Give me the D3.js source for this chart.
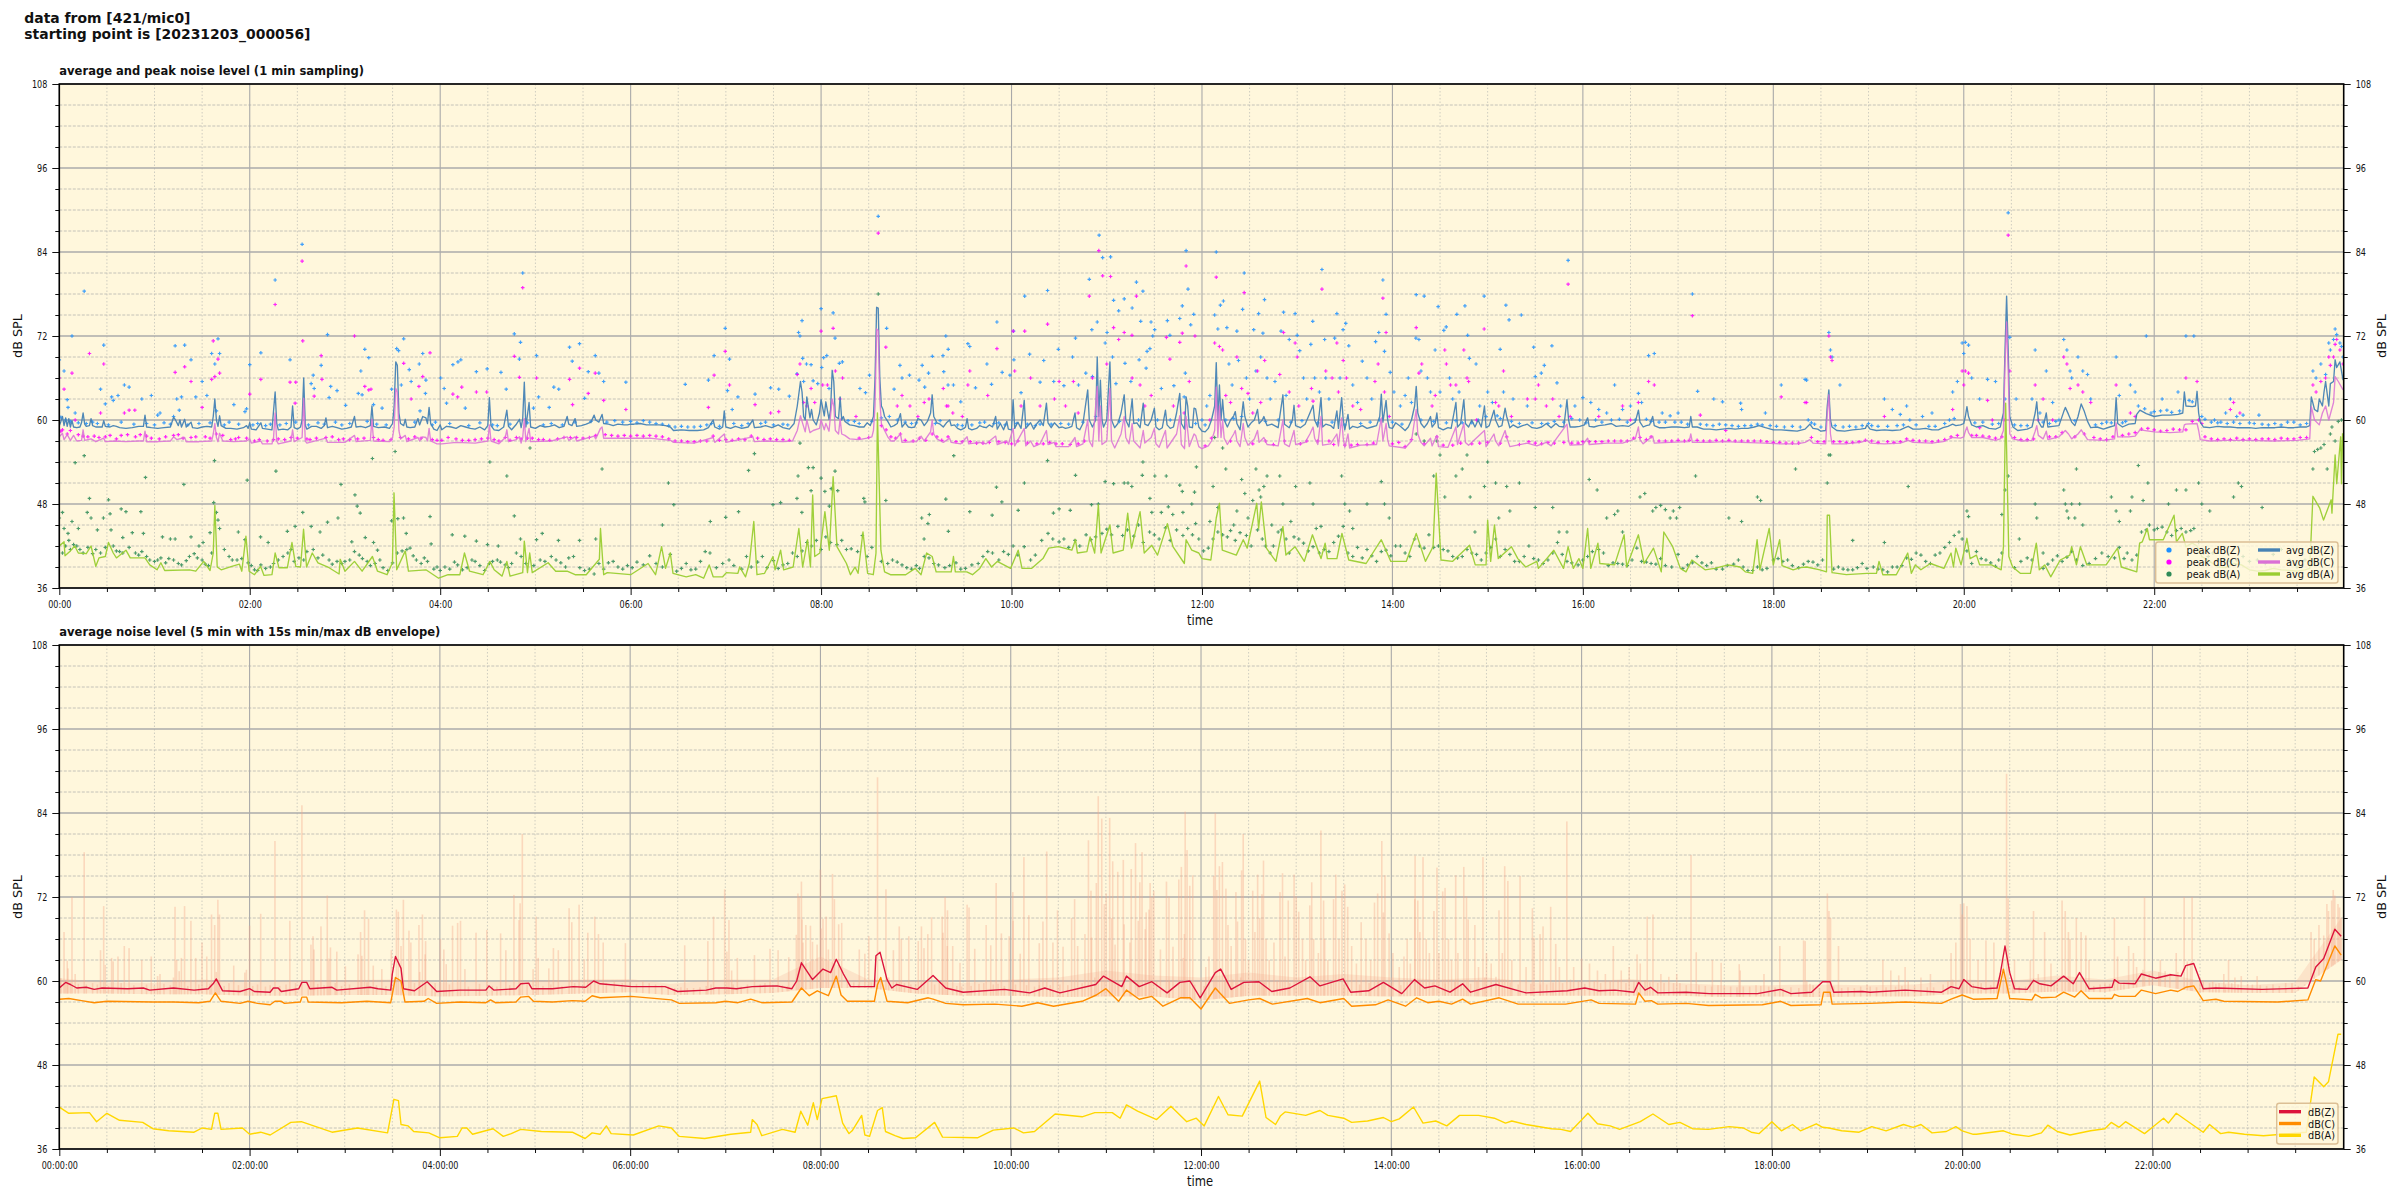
<!DOCTYPE html>
<html><head><meta charset="utf-8"><script src="https://cdn.jsdelivr.net/npm/d3@7/dist/d3.min.js"></script>
<style>html,body{margin:0;padding:0;background:#fff}svg{display:block}text{font-family:"DejaVu Sans",sans-serif;fill:#111}</style></head>
<body><svg id="c" width="2400" height="1200"></svg>
<script>
// all series are flat lists: minute, dB, minute, dB ...
const avgZ=[0,59.2,1,59.8,2,60.5,3,59.2,4,60.3,5,59.1,6,60.2,7,59,8,59.9,9,59,11,58.9,13,59,14,59.6,15,61,16,59.4,17,59.1,19,59.2,20,60.2,21,59.2,23,59,26,59,27,59,28,59.9,29,59.1,32,59,34,59.2,36,59.1,38,58.9,42,58.8,46,58.9,50,59.1,53,59.1,54,60.7,55,59,58,58.9,62,58.8,66,58.9,70,59,72,60.4,73,60.1,75,59.2,76,60,77,59,79,60.1,80,59,83,59.7,84,58.9,87,58.8,90,59,93,59.1,96,59,97,60.5,98,63,99,60,100,59.1,101,60.6,102,59.2,105,58.8,108,58.8,112,58.7,116,58.9,118,59.2,119,58.8,120,59.6,121,58.7,124,58.6,127,59.6,128,58.8,131,58.7,134,58.6,136,64,137,59.5,138,58.6,141,58.7,144,58.6,146,59,147,62,148,58.9,150,58.7,152,59,153,60,154,66,155,59.2,156,58.7,159,59.1,162,59.1,165,58.8,167,59.2,168,60.3,169,58.9,172,59.1,175,58.9,178,58.7,181,58.8,184,59,186,60.5,187,59,190,59.1,193,58.9,196,59.2,197,62,198,59.1,201,58.9,205,59,208,58.8,210,59.5,211,62,212,68.3,213,67.8,214,61,215,59.5,217,59.2,218,60.1,219,59,221,58.9,224,59,226,60.2,227,59.3,229,60.5,231,60.3,232,59.5,233,61.8,234,59.5,236,58.7,238,58.5,240,59.3,241,58.6,244,59.1,247,59,250,58.8,253,59.2,256,59,259,58.8,262,58.7,265,59,268,58.6,270,59.2,271,63.2,272,59.2,274,58.6,277,58.5,280,59,281,60.2,282,61.4,283,59.1,285,58.6,288,59.4,290,60.1,291,58.9,292,60.2,293,65.4,294,59,296,62.5,297,59,300,58.8,303,59.2,306,59,309,59.1,312,59.3,315,58.9,318,59.1,320,60.5,321,59.4,323,59.2,325,60.2,326,59.1,329,59.2,332,59.4,335,59.7,337,60.7,338,60,340,59.7,342,60.8,343,59.5,346,59.4,349,59.2,352,59.4,356,59.3,358,59.3,360,59.4,362,59.4,366,59.5,370,59.3,374,59.3,378,59.3,382,59.2,385,59,387,58.5,392,58.6,397,58.5,402,58.5,406,58.6,409,58.9,412,60,413,59,416,58.7,418,59,419,61.3,420,59,423,58.8,426,59.1,430,58.8,434,59,437,60,438,58.9,442,59,445,59.2,449,58.9,453,59.3,456,58.9,460,58.7,463,59.5,465,62,467,65.5,468,64,469,60.5,470,60,471,63.3,473,60.3,474,61.5,475,60,477,59.3,479,61,480,62.9,482,60.6,483,62.6,485,60.1,486,61.5,487,67.1,488,65.5,489,60.5,491,60.2,492,63.3,493,60,494,60.5,495,59.8,498,59.3,501,59.2,504,59,507,59,509,59.6,511,59.2,513,60.5,514,66,515,76.1,516,76,517,66,518,62,519,61.5,520,60.5,522,59.8,524,59,526,59.2,528,59.5,530,60.9,531,59,533,59.6,535,59,537,58.9,539,59,541,60.2,543,60,545,59.2,547,59.8,549,61,550,63.6,551,60.5,553,59.6,555,59.4,557,59,559,59.6,561,60,562,59.2,564,59.3,566,58.8,568,58.6,570,58.8,571,59,572,60.2,573,58.8,575,58.6,578,58.8,580,59.2,582,59,584,58.9,586,59.3,588,59,590,60.5,591,58.7,593,59.5,595,58.6,597,59.8,598,58.7,600,58.6,601,62.9,602,58.8,604,59.7,606,58.8,608,62.8,609,58.8,612,59.6,614,58.7,616,59.5,618,60,620,59.2,622,62.4,623,59.6,625,58.9,627,59.6,630,58.9,632,59,634,58.8,636,58.9,638,59.1,640,61,641,58.9,643,58.6,645,59.5,648,64.3,649,60,651,59,653,60,654,69,655,60.5,656,65.7,657,60,658,59,660,60,662,68.3,663,60,665,58.9,667,59.5,669,61,671,63.6,672,60,674,59,676,63,677,59.5,679,59.6,681,58.9,683,62.4,684,59.4,686,59.2,688,60,690,61.7,691,59,693,58.6,695,58.9,697,61.4,698,59.3,700,58.8,702,59,704,61,706,63.8,707,59.5,709,58.7,710,63.3,711,62,712,59,714,58.9,715,61.7,716,61.6,718,59,720,58.4,722,58.3,724,58.8,726,60,728,62,729,68.2,730,60,731,65,732,60,733,62.9,734,60,736,59,738,60,740,60.6,741,61.2,742,59.5,744,58.6,746,62.6,747,60.5,749,59,751,59.6,753,60,755,61.5,756,59.5,758,60,759,60.5,761,59.2,764,59.4,768,58.9,771,63.6,772,59.4,775,58.9,777,60,778,62.1,779,59.2,782,58.9,785,59.4,788,61,790,62.1,791,60,793,59,795,63.2,796,59,798,59.4,801,59.2,803,58.8,805,61.3,806,58.8,808,63.2,809,60,810,58.6,812,60.8,813,58.7,815,59.1,818,58.9,821,59.2,824,58.8,827,59,830,59.2,832,60.5,833,63.7,834,59.7,836,62.8,837,60,838,58.9,840,58.8,842,59.6,845,59.1,848,58.5,850,59,852,60,854,62,855,64.8,856,61,858,59.5,860,58.9,862,59.5,864,60.5,865,59,867,59.6,868,61,869,58.9,872,58.6,875,58.9,877,58.8,880,62.5,881,59,883,59.5,885,62.9,886,59.5,888,59,890,60,892,59,894,60,896,59,898,62,899,58.9,901,59.2,904,61.4,905,60,907,59,909,59.2,911,61.7,912,60.5,914,58.9,916,59.3,919,58.9,922,59.2,925,59.4,928,58.9,931,58.8,934,59,937,59.5,940,58.9,943,59.5,945,59.1,948,59,950,62.9,951,60,952,59,955,59,958,59.1,961,59.3,963,60.3,964,59.1,967,59,970,59.2,974,59.3,978,59.5,981,59.1,985,59.2,989,59.1,993,59.7,995,61.4,996,59.7,998,59,1000,59.2,1002,59.3,1004,60.5,1005,59.2,1008,58.9,1012,58.9,1016,59,1020,59,1024,58.9,1027,59,1028,60.5,1029,59,1032,59,1036,58.7,1040,58.7,1044,58.6,1048,58.7,1052,58.8,1056,58.7,1060,58.8,1064,58.8,1068,59,1071,59.2,1075,58.9,1080,58.6,1085,58.6,1090,58.5,1095,58.4,1100,58.7,1103,59.4,1105,58.8,1108,58.7,1110,58.4,1113,58.5,1114,62,1115,64.3,1116,60,1117,59,1120,58.5,1125,58.4,1130,58.6,1135,58.7,1138,58.8,1139,59.3,1141,58.7,1145,58.5,1150,58.6,1155,58.5,1160,58.6,1163,58.9,1165,59.1,1168,58.7,1172,58.7,1176,58.8,1180,58.6,1184,58.6,1187,58.9,1190,59.1,1193,59.4,1195,59.2,1198,59.3,1200,59.5,1201,60.5,1202,61.9,1203,60.5,1205,59.3,1208,59,1212,59.2,1216,58.8,1220,58.7,1223,59,1225,61,1226,70,1227,77.7,1228,70,1229,60.5,1231,59,1234,58.5,1237,58.6,1240,58.7,1243,59,1245,61,1246,62.6,1247,59.8,1249,59,1250,59,1251,60,1252,61,1253,59,1256,59.1,1260,59.2,1263,61.2,1264,61.8,1266,60.8,1268,59.7,1270,59.2,1272,60.5,1274,62.3,1276,61.2,1278,59.8,1280,58.9,1284,59,1288,58.7,1292,59,1295,59.2,1296,63.2,1297,59.5,1300,59,1304,59.4,1308,59.5,1309,60.8,1311,61.4,1315,60.9,1320,60.5,1325,60.7,1330,60.7,1335,60.8,1338,61,1339,64,1340,62,1344,61.9,1346,62,1347,64.1,1348,61,1349,59.7,1351,59,1355,58.9,1360,59.1,1364,59,1368,59,1372,58.9,1376,58.9,1380,58.9,1384,58.8,1388,58.9,1392,58.9,1396,58.9,1400,59,1404,58.9,1408,58.9,1412,59,1416,59,1418,59.2,1419,63.3,1421,61.5,1423,61.2,1424,63,1426,62,1427,64,1428,65.5,1430,62,1431,65.2,1433,65.5,1434,68.6,1435,67.5,1437,68.3,1439,65.7];
const avgC=[0,57.6,2,58.1,3,57.2,5,57.9,7,57.1,9,57.8,11,57,14,57.1,15,58.6,16,57.1,20,57.3,23,56.9,28,57.4,29,56.9,35,57,42,56.9,50,57,53,57,54,58.4,55,56.9,62,56.9,70,57,72,57.6,74,57.2,79,57.5,80,56.9,88,56.9,96,57,97,58,98,59.5,99,57.5,100,56.9,101,58.1,103,57,110,56.9,118,57,120,57.3,121,56.7,127,57,128,56.6,134,56.6,135,57.5,136,61,137,57,138,56.6,146,57,147,58.6,148,56.9,153,57.5,154,63.1,155,57,156,56.7,168,57.4,169,56.8,180,56.8,186,57.8,187,56.9,196,57.1,197,60.1,198,57,208,56.9,210,57.5,211,59,212,64.5,213,64,214,58.5,215,57.3,218,57.8,219,56.9,226,57.5,227,57,229,57.6,231,57.5,232,57,233,58.8,234,57,238,56.6,241,56.6,250,56.8,262,56.7,270,57,271,59.3,272,57,277,56.6,281,57.5,282,58.6,283,56.9,288,57.2,290,57.6,291,56.7,292,57.5,293,60.2,294,56.9,296,58.8,297,56.9,310,57,320,57.6,321,57.1,325,57.6,326,57,337,57.7,338,57.3,341,58.8,342,59,343,57.4,350,57.4,360,57.4,372,57.4,385,57.1,387,56.8,400,56.7,412,57.5,413,56.8,419,58,420,56.8,437,57.6,438,56.9,445,57,456,56.9,462,57,465,58.5,467,60.6,468,59.8,470,58.3,471,60,473,58.2,475,58.5,479,58.8,480,60,482,58.6,483,59.5,485,58.4,487,63,488,62,489,58.5,491,58,492,60.2,493,58,495,57.8,498,57.3,504,57.2,509,57.4,512,57.6,513,58.5,514,62,515,73,516,72.8,517,63,518,59.5,520,58.5,522,57.6,524,57,526,57,530,58,531,56.8,540,56.9,543,57.7,545,57,549,58.3,550,60,551,58,553,57.3,557,56.8,561,57.4,562,56.8,568,56.6,572,57.6,573,56.6,580,56.8,584,56.6,590,57.7,591,56.5,597,57,598,56.5,601,58.8,602,56.3,608,58.8,609,56.3,612,57,614,56.2,618,56.6,622,58.5,623,56.5,627,56.8,628,56.2,636,56.2,640,57.5,641,56.2,645,56.6,648,60,649,57,651,56.2,654,64.8,655,57,656,62,657,56.5,660,57,662,64.5,663,57,665,56,669,58,671,60.5,672,57.5,674,56.6,676,59.5,677,57,681,56,683,58.5,684,56.7,688,57.5,690,58.8,691,56.6,693,56.1,697,58.5,698,56,704,58,706,60.6,707,56.5,709,55.9,710,60.5,711,58.5,712,56.2,715,58,716,57.8,718,56.2,720,55.9,724,56.3,726,57,728,58.5,729,64.7,730,57.5,731,62,732,57.5,733,60,734,57.4,736,56.5,740,58,741,58.5,742,57,744,56.2,746,59.5,747,57.5,749,56.4,753,57.3,755,58.5,756,56.8,759,57.5,761,56.5,768,56.3,771,60,772,56.6,775,56.2,778,58.5,779,56.5,785,56.8,788,58,790,59,791,57.4,793,56.5,795,60.5,796,56.4,801,56.6,805,58,806,56.3,808,60.3,809,57.4,810,56.1,812,58,813,56,820,56.4,830,56.5,833,60.3,834,57,836,59.5,837,57.2,838,56.3,848,56,852,57,855,61.5,856,58,858,56.8,860,56.3,864,57.4,865,56.3,868,57.8,869,56.2,875,56.1,880,59,881,56.5,885,59.5,886,56.8,888,56.4,898,58.5,899,56.2,904,58,905,57,907,56.3,911,58.5,912,57.5,914,56.2,925,56.7,931,56.3,937,56.8,940,56.3,950,59.4,951,57,952,56.4,960,56.5,963,57.4,964,56.5,975,56.7,985,56.7,993,57.3,995,59,996,57.2,998,56.6,1004,57.7,1005,56.7,1015,56.8,1027,56.9,1028,58,1029,56.8,1040,56.8,1050,56.9,1060,56.8,1075,56.7,1085,56.6,1095,56.6,1100,56.8,1103,57.2,1105,56.7,1113,56.6,1114,61,1115,63.6,1116,58,1117,56.6,1125,56.6,1135,56.8,1139,57.1,1141,56.7,1150,56.6,1160,56.7,1165,57.1,1168,56.8,1180,56.7,1187,56.9,1193,57.5,1198,57.4,1200,57.6,1201,58.4,1202,59,1203,58.2,1205,57.5,1212,57.5,1220,57.1,1223,57.3,1225,58.5,1226,68,1227,74,1228,67,1229,58,1231,57.3,1237,57,1243,57.1,1245,58.4,1246,59.2,1247,57.8,1250,57.3,1252,58.4,1253,57.2,1260,57.6,1264,58.5,1266,58,1268,57.3,1272,58,1274,58.6,1276,57.9,1278,57.2,1288,57.1,1295,57.3,1296,59.6,1297,57.6,1304,57.6,1308,57.7,1311,58.6,1320,58.3,1330,58.2,1338,58.3,1339,59.3,1340,59.4,1347,59.5,1348,58.5,1349,57.2,1355,57,1365,57.1,1380,57.1,1395,57,1410,57.1,1418,57.3,1419,61.9,1421,60,1424,59.3,1426,61,1428,62,1430,60,1433,62.5,1434,66.2,1436,65.5,1439,64.3];
const avgA=[0,42,3,42.6,3.6,40.6,7,41.3,9.7,42,12,41,17,40.9,20,42,23,39.1,25,40.3,29,40.5,31,42.5,34,41,36,40.3,42,41.4,44.7,40.3,54,40.3,57,39.3,61.6,38.6,64,39.6,66.4,38.5,82,38.6,86,38.4,91,39.8,95,38.5,97,41,98,47.8,99.5,39,102,38.6,108.7,39.1,113.5,39.4,115,38.4,117.6,43.4,119.6,38.4,123,37.9,126.8,39.1,129,37.8,134,37.9,136,41,138.4,38.9,143.7,38.9,146.6,42.5,149,39.1,152,39,153.9,44.4,155.8,39,159.4,41,163,39.6,170,38.9,176.3,38,177,40.1,180,38.4,186,39.8,190.8,38.4,197.3,40.5,200.5,38.4,206.5,37.9,209.9,39.6,210.9,49.6,212.6,38.6,218,41.3,220,38.4,231,38.6,239,37.4,245,37.9,252.4,37.9,255.3,41,258.5,38.4,267,37.9,271.3,39.8,274,38.6,279,37.7,282,39.8,284,37.7,292,38.2,293,42.7,295,38.2,296.4,41,298,38.2,308,39.6,312.8,38.4,320,38.4,325,37.9,332,37.9,340.3,40.1,341,44.5,343,37.9,345.3,38.2,360,37.9,371,39.5,375.7,37.9,379.5,41.9,382,38.8,385,41,386.7,38.1,395,37.6,401,37.9,406,37.4,409.5,39.3,412,37.6,418,37.6,420.3,38.2,427.6,38.1,428.7,39,432.4,37.6,434.8,39.5,437.6,45.5,439.6,37.9,444.4,38.1,449.7,40.5,451,38.6,454.5,41.4,456.4,38.6,462.4,39,466,44.5,468.4,39,471.5,42.9,473.3,39,474.7,49.3,476,40.5,479.2,41,482.4,46.9,485.2,41.4,487.6,51.9,490,41.9,496,39.5,498.5,37.9,501.4,39,503.3,38.1,506.4,44,509.3,38.1,512.9,37.9,514.6,41,515.5,61,517.7,41.4,520,38.3,523.7,37.9,533.3,37.9,539.3,38.8,543,37.9,546.5,41,550,40.5,552.5,38.3,562,38.3,563.4,40.5,564.6,38.3,571.8,38.3,575.4,37.9,580,38.8,583.8,40.2,587.4,39,591,39.8,599.4,38.8,604.2,41.4,606.6,38.8,612.6,38.8,619.8,40.2,623.4,41.7,629.5,41.9,638,41.4,640.3,42.9,641.5,41,647.5,41.2,649.5,43.3,652.4,41,654.7,47.9,656.4,41,658.3,42.4,662,45,664,41,670.4,41.4,673.2,46.7,675.6,41.7,681,46.9,683.6,41,688.4,42.1,692,40.7,698.2,45.2,701.7,41.9,708.9,39.5,710,42.9,713.6,41.4,718,41,720,40.2,725.6,40,729,46,731,48.1,732.8,41.4,741.6,40.7,746,42.9,748.5,41.7,754.5,48.1,755.7,44.5,757.4,48.3,760.6,41.7,766.6,39.8,771,44.8,772.9,40.7,778.6,41.9,784.5,39.8,789.6,43.6,795,40.2,797.6,42.4,799,40.2,805,40.2,808.2,43.8,812.5,40,823.4,39.5,833,42.9,839,39.8,848.7,39.8,855,43.8,860.8,39.8,865.6,41.9,867.6,52.4,870.6,40,877.8,39.8,888.6,42.1,892.2,39.3,899,39.3,900,45.7,901.9,39.8,904.3,45,906.7,40.2,915,41.9,919,40.2,924,39,931,39.8,932,38.8,941.7,41.4,947.8,38.8,950.7,41.9,954,38.8,957.5,40.2,960,38.8,963,44.5,965,38.8,969.5,42.4,970.7,39.5,980,39.3,986,43.6,987.6,39,995,43.6,998.6,39.5,1004.5,41.7,1009.4,38.3,1011,44,1016.6,41.9,1021.4,38.8,1025,38.3,1028.7,40,1037,38.6,1043,38.8,1051.6,39.3,1059,39,1062.5,38.3,1067,38.1,1069.8,42.9,1071.5,38.6,1077.4,44.5,1080,39.3,1084,42.9,1085.5,39.2,1092.5,38.6,1097,38.9,1101,39,1109.4,38.6,1113.5,38.3,1114,46.4,1115.4,46.4,1117,38.2,1126,37.9,1139,38.1,1145,38.1,1146.6,39.8,1149,37.9,1157.5,37.9,1164.7,41,1167,38.1,1169.5,39.3,1173,38.6,1179,39.5,1187.5,38.8,1192,41,1193.5,39,1195,41.7,1198.3,39.3,1202,43.1,1204,40.2,1208,40.7,1210,39.3,1217.5,39.3,1223.6,38.6,1225,41.9,1226.4,62.4,1228.4,40.5,1230.8,39,1235.6,38.1,1242,38.1,1245.7,42.4,1247.6,38.6,1251,39.3,1254.8,37.6,1260.8,40,1266.8,40.7,1268,41.9,1271,39.3,1273.5,41.9,1277.6,39.3,1289.7,39.3,1296.9,41.7,1299.3,39,1309,38.3,1310.8,42.4,1312.5,42.6,1315.6,44.5,1317,42.9,1325.7,42.9,1332.5,46.4,1334,42.6,1337.7,43.8,1340,41.9,1344,42.4,1347,42,1350,40.5,1355,39.8,1360,39,1365,38.9,1370,39.5,1375,39.3,1380,38.6,1385,38.4,1390,38.5,1395,38.8,1400,38.6,1405,38.5,1410,38.4,1415,38.6,1418,38.8,1420,49.1,1424.3,47.4,1426.7,45.7,1431.5,48.6,1432,46.7,1434,55,1435,50.9,1437.5,57.6,1438,50.9,1438.7,58.1];

const peakZHigh=[0,68.6,3,67,5,62.9,5.5,61.8,8,72,10,61,15.7,78.4,26,64.4,28,70.7,29,62.3,33,63.3,34,62.8,37,63.5,41,65,44,64.7,52,63,58,63.5,62,60.7,63.5,61,72,60.5,73,70.6,74,63,75.6,61.4,77,63.3,79,70.7,83,68.6,86,63.3,90,65.5,93,63.5,96,69.5,98,68,99,61.3,100,71.6,101,69.5,110,62.2,117,61.2,118,61.6,120,67.9,127,69.6,136,80,145.4,68.6,153,85.1,158.7,65.2,160,66.4,160.6,64.5,165,67.8,169,72.2,170,63.2,171,64.8,175,64.2,180.4,62.1,188.4,63.8,190,67,190.8,63.6,192.5,70.1,195,68.9,198,62.2,203.4,61.7,209.4,64.4,212.6,70.2,213.8,69.9,215.5,65,217,71.6,220.5,67.2,221.7,65.5,226.8,68,227.3,61.3,229,69.5,230.7,63.8,231,65.7,240.3,66,242.5,64.5,244,62.4,248,67.9,251.2,68.3,253,68.6,255.8,61.7,262.8,66.9,269.6,67.3,278.3,66.8,281.6,64.4,286.7,72.3,289.9,68.7,290.6,71.1,292,81,298.8,61.7,300.7,69.2,302,63.3,308.7,61.8,311.6,64.7,314.7,64.4,321.5,70.4,323.2,68.4,327.8,70.9,331,63.1,333.3,66.9,337.7,69.2,340,66.7,343,65.5,357,65.4,394.4,65.1,409,65.7,412.6,69.2,419.6,73.1,421,64.2,422.3,68.7,424,61.5,427.6,63.3,438.4,63.7,448.2,64.6,453.3,64.4,460,63.4,464.8,66.6,465.8,72.5,466.7,72,468,74.2,468.4,68.8,469,65.5,470.8,68,473.7,67.9,475,65.6,477.9,65.2,480,75.9,480.4,67.5,481.6,68.9,483.6,69.2,485,64.5,487.6,75.3,488.8,71.7,491.5,68.1,493.4,68.3,504.5,64.5,508,63.9,510.5,66.4,516,89.1,521.3,73.1,526,64.4,529.7,67.8,531,66,535.7,66.4,541.7,65.7,543.7,67.8,545.3,64.7,547.7,66.7,550.1,69.1,556.8,69.2,557.3,66.9,558.6,72,560,65,560.1,70.1,563.4,65,568,62.6,572.5,70.9,573.7,70.5,577.3,64.6,584.5,68,587.4,65.1,590.8,74,594.1,66.8,599,66.4,601.3,72.7,601.5,68.6,606,63.9,608.3,77.7,611.4,69.4,618,65.4,620.3,68.5,622.7,78.5,626.6,65.5,629.5,70.1,633,64.9,638.4,69,640.3,71.7,642.2,65,646.8,66.7,649,80.1,650.6,72.9,651,66.2,654,74,655.2,86.4,657.4,83.2,659,71,660.2,72.5,662.4,83.3,663.6,69,664.3,77.1,665.8,65.2,667.5,75.6,671,77.3,671.5,68.1,675.2,65.5,676,76,678.7,79.7,680.4,68.6,681.4,74.1,682.8,78.4,684.8,67.4,685.4,69.8,687.2,70.2,687.9,74,689,72,690.2,72.9,694.4,64.5,698.2,74.2,699.8,72.1,702.3,64.9,706,74.5,707.6,76.3,708.8,63.3,709.5,66.7,710,84.2,711.2,78.7,712.9,73.6,714.8,75.1,723,62,725,63.5,728,75,729,84,730,73,731.6,76.4,733.5,77,735.7,73.2,737,68,739,65,742,72.7,743,68.5,745.6,75.8,746.6,81,748,66,750,63,752.6,72.9,754,67,755.7,75.2,757,69,758.4,72.4,759.4,77.2,761,66,763,63,766,65.5,769.8,72.7,771.4,75.4,773,63.5,775,71.5,778.7,75.2,780,72.1,781.6,69.9,784,66,786,63,788.6,70.8,789.8,74.1,791,66,794,64,795.6,81.5,797.3,71.5,798,66,800,63,803.6,71.7,805,75.2,807,66,808.9,72.9,810.6,73.8,812.5,70.6,815,65,818,62.5,821,68.4,824,66,827,63,829.4,71.2,831.4,72.5,834,80,835,69.8,836,75.1,838.6,66.8,841,64,845,62,848,63.5,850,66,852,62.5,854.8,71.7,855,77.9,856.7,71.5,858,67,860,77.7,862,66,864,64,866.9,70,868.8,76.2,870,64,872.4,72.8,873.9,73.3,876,66,878,63,880.6,75.1,882,64,885.7,76.3,887.4,72.1,888.5,68.8,892.7,68,895,62,897.8,77.7,900,64,903,62.5,907.9,70.1,910,64,911.5,76.4,913.5,74.3,916,63,921.2,75,925,62,929,70.4,930,66.2,933.8,66.7,935.7,67.8,940.5,70.6,943.7,65.3,946,62,950.7,82.8,955,62,960,63.2,965,62.5,970,61.5,975,61,980,65,985,61.5,990,62,995,63.8,997,62.5,1001.4,69.2,1005,69.5,1010,61,1015,60.6,1020,61,1029,78,1032.3,64.1,1042.5,63,1048,62.6,1059.4,62.4,1060,61.5,1075,61,1085,65,1100,65.8,1101,65.7,1115,72.5,1116,70,1117,69,1122,65,1150,63,1155,61.5,1160,60.8,1164,62,1174,60.5,1180,61,1193,64,1196,65.5,1199,71,1200,69.5,1201,71.1,1203,70.7,1205,66,1210,63,1215,65.8,1220,65.5,1226,63,1228,89.6,1229,71.8,1233,63,1243,63,1245,70,1248,61,1252,67,1256,62.5,1263,71.5,1265,70,1267,67,1268,66,1272,69,1275,67,1278,66.5,1280,63,1296,69,1298,63.5,1305,65,1308,64,1315,72,1318,61,1325,63,1335,64,1340,72,1345,72,1350,60.5,1365,61,1368,63,1372,60.5,1376,60.7,1386,60.7,1420,67,1422,66,1425,68,1428,66.5,1430,71,1431,70,1433,71.5,1434,73,1435,72.2,1437,71,1438,70.5,1439,69];
const peakZBand=[1,60.4,4,60,7,59.8,12,59.6,17,59.5,21,59.7,24,59.5,31,59.3,39,59.7,47,59.4,55,59.5,60,59.3,66,59.6,70,59.4,81,59.3,88,59.5,95,59.6,104,59.3,107,59.7,113,59.4,122,59.3,125,59.5,130,59.2,133,59.4,139,59.3,143,59.5,149,59.7,157,59.3,163,59.6,167,59.4,174,59.7,178,59.3,183,59.5,194,59.8,200,59.4,206,59.3,224,59.7,235,59.3,237,59.7,246,59.5,258,59.2,265,59.6,273,59.3,276,59.2,284,59.4,295,59.6,305,59.3,310,59.5,317,59.3,325,59.7,335,59.8,345,59.7,350,59.9,355,59.7,360,59.8,364,59.6,368,59.9,372,59.7,376,59.5,380,59.4,384,59.2,388,59,392,59.1,396,59,400,59,404,59.1,408,59.3,411,59.5,416,59.1,425,59.5,430,59.2,434,59.5,442,59.5,445,59.7,450,59.3,456,59.4,459,59.3,497,59.9,501,59.8,504,59.5,512,59.8,518,60.3,523,60.5,528,60,533,59.7,537,59.5,540,59.6,552,59.5,555,59.9,566,59.3,569,59.2,575,59.3,580,59.6,583,59.7,589,59.5,592,59.6,596,59.3,603,59.5,610,59.4,615,59.2,618,59.4,625,59.4,631,59.5,636,59.4,645,59.7,653,60.5,668,59.8,680,60,692,60,700,60,716,59.5,720,60,722,59.3,735,60,740,60.2,745,60.5,760,59.8,768,60,776,59.7,783,59.9,793,59.6,802,59.7,810,59.3,820,59.5,826,59.7,832,60,840,59.7,846,59.4,858,60,866,59.8,874,59.6,880,59.9,884,59.6,890,59.6,894,60,899,60.5,906,60.6,908,60.2,915,59.8,920,59.5,928,59.6,934,59.5,938,59.5,942,59.8,948,59.7,953,60.2,958,60,962,59.6,968,60,972,59.7,978,60,983,60.1,988,59.7,993,60,1000,60.1,1003,59.8,1008,59.7,1012,59.7,1018,59.7,1022,59.7,1026,59.4,1034,59.4,1038,59.3,1042,59.2,1046,59.4,1050,59.3,1054,59.2,1058,59.1,1062,59.2,1066,59.2,1070,59.4,1073,59.3,1078,59.2,1082,59.1,1087,59,1092,59.1,1097,59,1102,60,1104,59.6,1106,59.4,1110,59,1119,59.2,1124,59,1128,59.1,1132,59,1136,59.2,1140,59.5,1142,59.2,1146,59.1,1152,59.1,1158,59.2,1162,59.3,1166,60,1170,59.3,1178,59.1,1182,59.1,1188,59.5,1191,60,1194,60.2,1207,59.6,1212,59.7,1218,59.4,1222,59.5,1232,59.3,1236,59.2,1240,59.2,1250,59.7,1254,59.5,1258,59.8,1260,60,1270,59.9,1283,59.3,1287,59.5,1290,59.7,1293,59.6,1300,59.6,1302,59.8,1310,62,1314,61.6,1320,61.2,1324,61.3,1328,61.4,1331,61.1,1336,61.3,1342,62.8,1344,62.6,1352,60.1,1356,59.7,1358,60,1360,59.6,1362,59.7,1366,59.5,1370,59.7,1374,59.5,1380,59.6,1383,59.5,1388,59.4,1392,59.3,1396,59.5,1400,59.3,1404,59.7,1408,59.7,1412,59.3,1416,59.5];
const peakCHigh=[0,66,3,64.4,8,66.7,10,60,19,69.5,26,61,28,68,41,61,44,61.4,47.6,61.4,73,66.8,79,67.6,83,65.5,90,61.8,96,65.8,97,71.3,100,68.7,101,66.7,98,66.2,120,63.7,127,65.8,136,76.5,145.4,65.4,148.6,62.4,149,65.4,153,82.7,153.4,71.3,160.6,63.4,165,69.2,165.5,65.8,186,72,192.5,64.8,195,64.3,196.4,64.4,217,68.1,221.7,63,226.6,64.8,229,66.2,233.6,69.6,248,63.7,251,63.3,253.6,64.7,262.8,64,269.3,64,286.7,69.1,289.9,66.1,292,78.9,300.7,66,321.5,65.8,323.4,62.2,327.8,67.4,333.3,63.8,337.7,66.7,343,62.8,357,61.5,409,61.8,412.6,66.4,419.6,69.8,422.3,65,438.4,62.2,448.2,61,453.3,61.2,465,66.5,466.7,68,469,62.5,471,62,473.7,64.5,476,62.5,480,72.7,481,65,484,65,487.6,73.1,489,67,492,63,493.5,66,502,60.5,516,86.7,520.8,70.4,528,62,531,63.5,536,62,541,60.5,545,62.5,548,63,557,64.5,559,62,560,62,563,61,569,60.5,573.7,67,572.5,65,585,63.5,590.8,70.2,601,72.7,602,67,606,62,608.3,72.7,612,66,618,62,622.7,73.7,627,63,630,65.5,634,62,639,65.5,642,61,649,77.7,651,66,655,84.2,657.4,80.6,660,68,662.4,80.5,664.3,73.2,667.5,71.5,671,72.5,675.9,72.1,676,66,678.7,77.7,681,65,684,62,688,63.5,697.6,71.8,699.8,68.7,702,62,706,71.1,707.6,72.4,708.8,61,710,82,712,65.5,715.6,72,725,60,728,71,729,80.4,731,70.5,733,70,735,63.5,738,62.5,742,69,745,64.5,746.6,78.2,749,63.8,752,61,755,67,757,62.5,759.5,68.5,769,66.5,771.4,72.5,775,64,778.7,71,780,69,781,62,789,64.5,790,62.7,795.6,78.7,798,67,802,66,805,71,806,64,809,68.5,811,66,815,62,820,61.5,829,65.5,831,68,834,77.4,835,64,836,72.5,838,60.5,855,73.2,856.7,66.7,858.5,68,865,62,867,63.5,873,70,874,68,876.6,65,880,65,885,70,887,66,888,65.5,893,60,897.8,73,905,62.5,907,62,910,67,915,60.5,925,63,930,63,932,65,937,62,941,63,945,60.5,950.7,79.4,952,60.5,970,60.5,985,62,990,60,995,62.5,1001.4,65.5,1005,65,1029,74.9,1034,60.7,1050,58.5,1085,63.3,1100,62.5,1101,62.5,1115,72,1116,69,1117,68.5,1150,60.5,1193,61.5,1199,67,1200,65,1201,67,1203,66.7,1210,58.9,1215,62.8,1218,60,1226,60,1228,86.4,1229,67,1245,65,1247,60,1250,63,1256,60,1263,69,1265,68,1267,64.5,1272,65,1275,64,1280,62.5,1296,65,1305,61,1308,60.5,1340,66,1347,65.5,1350,59.5,1368,61.5,1370,62.5,1374,61,1420,65,1422,64,1425,65.5,1428,66,1430,69,1431,67.8,1433,69,1434,70.8,1435,71.5,1437,70,1439,68];
const peakCBand=[1,58.4,2,58.6,5,58,7,58.5,12,57.9,15,57.7,18,57.6,22,57.7,25,57.5,29,57.6,32,57.8,36,57.3,39,57.8,43,57.9,48,57.6,51,57.9,55,57.7,58,57.4,63,57.3,67,57.6,72,57.8,75,57.9,78,57.4,83,57.5,86,57.6,92,57.6,95,57.4,99,58,103,57.8,108,57.2,111,57.3,113,57.5,118,57.4,123,57,126,57.2,131,57,135,57.2,138,57.3,142,57.2,146,57.5,150,57.4,156,57.3,158,57.2,162,57.4,168,57.5,172,57.6,176,57.2,179,57.3,183,57.2,188,57.3,192,57.4,198,57.5,201,57.2,204,57.1,209,57.2,215,57.5,220,57.3,224,57.6,228,57.4,235,57.2,238,57.1,241,57.1,245,57.5,250,57.3,254,57.1,258,57.1,262,57.2,266,57.3,270,57.4,274,57.2,277,57,281,57.5,284,57.1,288,57.5,291,57.3,295,57.4,298,57.4,302,57.2,305,57.2,309,57.1,314,57.3,318,57.5,322,57.5,326,57.5,330,57.4,334,57.5,338,57.8,344,57.9,348,57.8,352,57.7,356,57.8,360,57.7,364,57.8,368,57.7,372,57.8,376,57.7,380,57.6,384,57.3,388,57,392,57,396,56.9,400,56.9,404,57,408,57,412,57.7,416,57.1,420,57.2,424,57.1,428,57.3,432,57.2,436,57.7,440,57.4,444,57.2,448,57.3,452,57.2,456,57.2,460,57.1,504,57.4,510,57.5,518,59.2,521,58.6,524,57.6,527,57.4,530,58,533,57.1,538,57,542,57.4,546,57.1,550,58,553,57.6,556,57.1,560,57.6,565,56.9,569,56.9,574,56.9,578,56.7,582,56.7,586,56.8,592,56.9,596,56.8,600,56.6,604,57,610,56.7,616,56.6,620,56.6,624,56.8,628,56.6,632,56.6,637,56.5,642,56.6,646,57,722,56.3,726,57.4,738,57,752,56.6,760,57,765,56.5,772,57,782,56.6,786,57,793,57,800,57,803,56.5,810,56.4,814,56.4,818,56.5,824,56.5,828,56.7,840,56.6,844,56.8,848,56.2,852,57.2,860,56.6,868,57.6,872,56.4,878,56.4,883,56.7,890,56.6,895,56.7,900,56.8,908,56.7,912,57.6,920,56.5,926,56.9,930,56.7,934,56.6,938,56.8,942,56.7,948,56.8,953,56.7,957,56.7,960,56.9,964,56.9,968,56.9,972,56.9,976,57,980,57,984,57,988,57,992,57.4,996,57.5,1000,57.2,1003,57.6,1008,57,1012,57,1016,57,1020,57.1,1024,57,1027,57.1,1032,57.1,1036,57,1040,57,1044,57.1,1048,57,1052,57.1,1056,57,1060,57,1064,57,1068,57,1072,57,1076,56.9,1080,56.8,1084,56.8,1088,56.7,1092,56.7,1096,56.7,1104,57.5,1108,56.9,1112,56.9,1118,56.9,1122,56.9,1126,56.8,1130,56.8,1134,56.9,1138,57.1,1142,57,1146,56.8,1152,56.9,1156,56.8,1160,56.9,1164,57.3,1168,57.1,1172,57,1176,57,1180,56.9,1184,57,1188,57.2,1192,57.6,1196,57.8,1205,57.8,1208,57.8,1212,57.7,1216,57.6,1220,57.4,1224,57.6,1232,57.5,1236,57.2,1240,57.2,1244,57.3,1254,57.6,1258,57.6,1262,58.2,1270,57.6,1276,58,1282,57.5,1286,57.3,1290,57.2,1294,57.6,1300,57.8,1304,58,1308,58.2,1312,58.7,1316,58.8,1320,58.6,1324,58.4,1328,58.5,1332,58.7,1336,58.6,1340,58.6,1344,59.8,1348,60,1352,57.6,1356,57.3,1360,57.2,1364,57.3,1368,57.2,1372,57.4,1376,57.2,1380,57.3,1384,57.2,1388,57.3,1392,57.3,1396,57.2,1400,57.4,1404,57.3,1408,57.3,1412,57.5,1416,57.5];
const peakAHigh=[0,46,2,46.8,3,44.5,5.5,43.8,8,45.5,10,53.9,12,44.5,15.7,54.9,17.6,46.8,19,48.8,20,46,24,44.3,27.8,46,31,48.6,32,46.6,32.6,44.3,39,47.3,40,43.2,42,46.9,46,43.9,51.4,46.9,53,43.8,54.3,51.8,65,43.3,70,43,73,43,78.5,50.8,83,43.3,88,42,90.6,42.5,95,43.9,97.3,48.2,97.8,54.2,99,46.8,100,45.7,101,44.5,112.8,44,117,42.9,118.4,51.4,126.8,43.3,131.6,42.5,136.5,52.7,143.7,44.1,148.6,44.8,153.4,46.8,158.7,44.8,164.3,44,169,45.4,175.6,46,177.5,50.8,184.3,42.6,186.3,49.3,187.7,47.7,189.6,46.7,192.8,43.2,197.3,54.5,198,42.5,200.5,41.4,209.4,45.6,211.6,55.5,213.3,45.9,216.9,46,218.6,43.8,233.6,46.2,234.3,42.3,247.6,43.6,255.5,43.4,262.8,42.7,269.8,42.2,271.3,54,276.6,42,282,52,286.7,46.3,290.6,43,296.6,56,300.7,42.9,304.3,43.8,314.5,42.8,327.8,42.8,338,43,342,53,380,45,383.8,51,387.2,47.9,410.2,45.5,419.9,46.1,428,46.9,434.3,52.8,438,55.2,449.7,47.9,454.5,48.2,464.8,48.8,465.5,52,466.7,56.7,467.9,46.8,472,53.2,473.7,49.9,475,53.2,480,51.7,482.4,49.8,485.2,47.7,486.4,50.2,488.8,52.7,490.5,49.9,506.9,48.8,507.6,48.3,516,78,520.8,48.5,543.4,46,544.9,43,547.3,45.2,548.2,46.5,558.6,48.7,560.2,44.1,563.6,54.9,573.7,46.9,587.8,46.4,590.5,50.4,593.9,48.3,604.2,47.1,608.1,51,622.7,54.2,626.4,46.7,630,47.3,637,47.1,640.3,52.1,650.4,47.9,654.7,48,659,51.2,664.3,50.9,671,51,673.4,51,675.8,50.5,682.4,52.1,682.8,54,687.2,48.8,688.4,46.8,690.3,52,694.4,46.8,697.5,52,698.8,47.6,701.6,46.5,706,50.7,707.6,49.8,708,46.8,713.6,48,715.3,49.7,716,45.2,716.5,53.3,725,45.5,727,50.5,728,57.5,730,47.5,733,56,735,53,740,45,742,47,745,51.5,747,49.5,749,46,752,48.5,754,53,756,50,757,49,759,50.5,761,52,764,45,769,52,771,48,776,45.5,779,50.5,788,51,790,48,792,44.5,795,44.8,808,52,810,48,813,47,815,44.5,824,48,833,51.2,835,48,838,46,855,58,860,57,866,52,868,57,870,55,873,49,880,52,884,53,887,55,889,49,892,44,898,50.5,900,54,905,51,907,46,912,50.5,914,47,920,51,930,47.5,941,47.5,945,44,950,44,964,51.5,969,50,975,46,980,46.5,982,47,985,44,996,49,999,49.5,1004,47,1006,47.5,1009,47.8,1012,47.2,1015,46,1017,47,1019,46,1021,47.5,1031,52,1052,46,1060,45.5,1070,49,1072,48.5,1094,53,1114,51,1115,55,1116,55,1130,42.8,1150,42.5,1165,50.5,1202,47,1203,46.2,1224,46.5,1226,50,1228,52,1235,43,1245,48,1246,46,1250,41,1263,50,1264,48,1265,47,1266,46,1268,48,1270,46,1271,53,1273,48,1275,45,1293,49,1296,47,1298,45.5,1305,47,1306,49,1310,53.5,1313,48.5,1316,51,1329,48,1334,50,1340,50,1348,51,1350,48,1355,47,1375,50.5,1370,49,1373,51,1388,47.5,1420,53,1421,55.5,1423,55.8,1425,56,1427,56.5,1429,53,1431,58,1432,59,1434,57,1436,59.8,1438,60];
const peakABand=[2,41,4,42,6,42.8,7,41.5,9,42.2,11,42,13,41.5,15,41,18,41.8,21,40.9,23,41.5,26,41,29,41.8,34,42,36,41.3,38,41.2,40,41,44,41.8,48,41,50,40.7,52,41.2,55,40.5,57,40,60,39.8,62,40,64,40.3,67,39.6,69,40.2,72,40,75,39.5,77,39.3,80,39.9,82,40.5,85,40.9,87,40.3,90,40,92,39.4,94,39.2,96,41,104,41.5,107,40.5,109,40,112,40,115,40.2,119,39.6,121,39.2,123,38.6,125,38.5,127,39.3,130,38.8,133,39,135,39.5,138,40,141,40.5,144,41,146,41.5,148,39.8,151,40.3,154,40,156,41.2,160,41.5,163,40.3,166,40.7,170,40,172,39.4,175,39.8,178,39.5,180,39.8,183,40,186,41.2,189,40.7,191,40.2,194,39.8,196,39.2,199,39.5,202,40,204,38.9,207,38.5,210,39.6,213,41,216,41.3,219,41.5,221,41.7,223,40.6,225,40,228,39.5,230,40.3,232,39.8,236,38.7,238,39,240,38.5,243,39,246,38.7,249,39.7,251,39.3,254,38.6,257,38.9,260,40,262,39.8,265,39.2,268,38.5,271,39.5,273,39.8,276,40,278,39.7,281,39.3,283,38.9,285,39.5,288,41,291,40.5,294,39.5,299,39.2,303,40,306,39.8,310,40.5,313,40,316,39.6,319,39,321,40.3,324,40.5,328,38.9,331,38.5,334,38.7,337,38,340,39.5,343,38.7,346,39.6,349,39.8,352,39,355,38.7,358,39.2,361,38.9,364,39.7,368,39.3,372,40.6,376,39.5,380,39,385,40.8,389,38.4,392,38.8,395,39.5,398,38.6,401,38.7,404,39.8,407,41.2,410,41,414,38.9,418,39.5,422,40,425,39.2,430,38.7,433,40.5,436,39,440,39.7,443,40.5,446,38.9,450,39.9,453,38.8,456,39.3,459,39.5,462,41,465,40.5,468,41.3,471,42.5,474,42,477,42.8,480,41.5,483,43.3,486,42.5,490,42.2,493,42.8,496,41.5,499,41.6,503,41.2,506,43.5,509,40.5,512,41.8,518,39.8,522,39.5,525,40,528,39.7,531,39.3,534,38.9,537,38.7,540,39.2,542,38.8,545,40.5,548,40.3,551,39.5,554,39.3,558,38.9,561,39.2,565,39.6,568,38.7,571,38.8,575,39.3,579,39.5,582,40.5,585,41.2,588,41,592,40,595,41.2,598,40.8,601,42,604,40.7,608,41.9,612,40,615,40.7,619,42.8,623,43.8,626,43,630,42.6,633,43,636,41.8,640,42.8,643,42,647,43.6,650,42.9,653,43.3,657,43.8,660,44.4,663,43.6,667,44.8,670,43.5,673,44.3,677,43.4,680,45,683,42.5,687,44,690,43.6,693,43,697,44.6,700,42.8,704,44.3,708,43.5,711,44.5,714,43.6,718,43,721,41.3,724,41.7,727,43,730,44,733,43.6,736,43.3,738,44.2,741,42.8,744,43.9,748,43.5,751,42,755,44.3,758,43,760,42,763,41,765,42,768,44,770,44.3,773,43,775,41,778,43.3,781,43,784,42.4,787,41.3,790,41.9,794,41,797,41.5,800,41.2,803,42.5,806,43.4,809,44.8,812,41,815,40.5,818,41.8,821,40.3,824,41.5,827,40.6,830,39.8,833,41.2,836,41.4,839,40.6,842,42,845,42,848,41,851,40.5,854,43,857,42,860,41.7,863,43.6,866,41.8,869,42,872,41.5,875,41.3,878,40.5,881,40.3,884,40.5,887,41.5,890,41,893,40.8,896,40,899,41,902,41.8,905,43,908,40.5,911,41.5,914,40.8,917,39.8,920,39.8,923,40.5,926,42,929,40.2,932,40,935,39.5,938,40,941,41,944,42.5,947,40.8,950,39.8,953,39.6,957,39.3,960,40,963,40.5,966,41.2,970,41.5,973,41,976,39.2,979,39.6,982,39.5,985,39.4,988,39.2,991,40,994,41.7,997,39.8,1000,39.7,1003,39.5,1006,39.4,1009,40.2,1012,39.2,1016,39,1020,40.8,1023,38.8,1026,39.3,1029,39.6,1032,40.5,1035,39.6,1038,39.2,1041,39.6,1044,38.7,1048,38.7,1051,39.2,1055,39.4,1058,40,1061,39,1064,38.5,1067,38.5,1070,39,1073,38.6,1076,38.8,1080,40,1083,40.2,1086,39.8,1089,40,1092,39.2,1096,38.9,1099,39.4,1102,39.8,1105,39.7,1108,39.3,1111,40,1118,38.7,1121,39,1124,38.7,1127,38.6,1130,38.6,1133,38.9,1136,39.5,1139,38.8,1143,39,1146,38.7,1149,38.6,1152,38.3,1155,39,1158,39,1161,39.2,1164,40.3,1167,40.1,1170,41,1173,40.7,1176,39.8,1179,39.5,1182,40.7,1185,41,1188,41.8,1191,42.5,1194,43.5,1197,44,1199,43,1202,41.3,1205,39.5,1208,41.2,1211,40.2,1214,40,1217,39.6,1220,39.1,1222,40,1224,41,1232,38.9,1236,39.8,1240,40.3,1243,40,1250,38.8,1253,39.4,1256,40,1259,40.6,1262,39.8,1265,40.4,1268,41.2,1271,40,1275,39.2,1279,39.5,1283,40.2,1287,41,1291,40.5,1295,40.3,1298,41.8,1301,40.2,1303,41,1306,40,1309,40.7,1312,44,1315,44.3,1317,45,1320,44.3,1322,44.5,1325,44.7,1328,44,1331,43.5,1334,44.2,1337,44.5,1340,44,1343,44.2,1345,44.5,1348,42.5,1351,41,1354,40.5,1357,41,1360,40,1364,40,1368,39.8,1372,40,1376,40.5,1380,39.8,1385,40,1390,39.5,1395,40.8,1400,41.5,1405,40,1410,39,1415,40];
const envTimes=[0,30,60,90,120,150,180,210,240,270,300,330,360,385,420,450,480,510,540,570,600,630,660,690,720,750,780,810,840,870,900,930,960,990,1020,1050,1080,1110,1140,1170,1200,1230,1260,1290,1320,1350,1380,1410,1420,1439];
const envLow=[58.2,58.2,58.1,58.1,57.9,57.9,58,58,57.8,57.9,58,58.2,58.4,58,58.1,58.3,59,59,58.2,57.9,57.9,57.7,57.8,57.8,57.2,57.9,57.9,57.9,57.8,57.9,57.8,57.9,57.9,57.9,57.9,57.7,57.8,57.7,57.8,57.8,58.2,58.2,58.5,58.4,59.4,58.4,58.3,58.3,60,63];
const envHigh=[60.4,59.8,59.7,60.2,59.8,60,60.1,60.2,59.8,59.9,60,60.2,60.3,59.6,60.2,60.2,63.5,60.2,60,59.7,60.2,60.5,61.5,60.8,60.5,61.2,60.5,61,60.5,60.2,60.5,59.8,59.9,60.3,59.7,59.4,59.4,59.5,59.4,59.5,60.2,60,60.8,60.2,61.5,60,59.4,59.8,63,69];
const lineZ=[0,59,4,59.8,7,59.5,11,59,17,59.1,22,58.8,27,59,43,58.9,53,59,57,58.7,72,59,85,58.7,94,58.9,97,59.6,99,60.3,103,58.6,114,58.5,120,58.9,123,58.5,133,58.4,135,59,138,59,140,58.5,151,58.9,153,59.8,156,59.8,158,58.9,172,59.1,175,58.7,196,59.1,201,58.9,209,58.7,210,61,212,63.5,215.5,61.8,217,58.9,224,58.6,232,59.9,238,58.5,252.6,58.7,269,58.7,271,59.3,274,58.7,288,58.9,291,59.6,296,59.7,298,58.9,311,58.9,324,59.2,332,59.1,337,60,341,59.6,361,59.2,382,59.2,390,58.5,408,58.7,414,59,421,59,427,58.9,437,59.2,452.6,59.3,462,58.9,465,60,468,62.6,475,60.2,481.6,61.7,486.4,61.2,490,63.1,494.5,61,499,59.2,514,59.2,515,63.6,517.6,64.1,522,60.2,525,59,528,59.5,541,58.8,551,60.8,559,59,570,58.4,596,58.8,612,58.3,621.5,59,631,58.3,653.6,59.5,658.5,60.7,670,59.2,673,60.7,681,59.2,689,59.9,698.6,58.3,706.7,59.8,713,60,719.5,57.6,729,61.2,732.4,61.7,739,58.8,747,59.8,756.5,59.9,764.6,58.5,776,59,788.7,60.6,795,59.3,809.6,60.3,814.4,58.4,825.7,58.6,835,59.8,846.6,58.2,854.6,60.2,861,59,867.5,59.3,877,58.4,885,59.6,890,58.4,906,59.5,925,58.3,951,58.6,962,59,971,58.6,981,58.7,993,58.4,996,59.8,1000,58.7,1003.5,59.1,1008,58.3,1026,58.4,1040.5,58.2,1071,58.2,1085.5,58.8,1092,58.2,1105,58.4,1112,59.9,1116.7,59.9,1119,58.4,1137,58.5,1142,58.4,1164,58.7,1187,58.4,1193,59.2,1198,58.9,1201,60.2,1206,59.2,1214,58.9,1222,59,1224,61,1227,65,1230,61.2,1233,58.9,1241,58.8,1245,60.1,1249,59.6,1256,59.3,1264,60.7,1270,59.6,1274,61.2,1280,58.9,1294.5,59.1,1296,60.2,1299,59.7,1309,59.6,1313,61,1322,60.4,1331.5,60.9,1338,60.7,1341,62.2,1346,62.5,1352,58.9,1360,59,1389,58.8,1418,59,1423,62,1428,63.2,1435,67.4,1439,66.4];
const lineC=[0,57.4,6,57.5,14,57.2,22,56.9,30,57.1,59,57,72,57,88,56.9,95,57.1,98.4,58.3,102,57.1,114,56.8,119,57.1,125,56.8,133,56.6,136,57.1,140,57.1,142,56.8,152,57,153,57.7,156,57.7,157,57,178,56.9,194,57.1,209,56.9,212,60.5,215.5,60,218,57,230,57.1,232.6,57.5,238,56.8,252.6,57,269,56.9,272,57.3,275,56.9,288,57,291,57.7,296,57.8,299,57.1,311,57,323.5,57.2,331.6,57.1,336,57.9,341,57.6,360.6,57.8,386,57.3,391,56.8,414,56.9,420,57.1,428,56.9,436,57.4,443,56.9,462,57,468,59,473,57.9,478,58.6,485,57.9,490,60.7,493,58,497,57.1,514,57.1,516,59.5,518,60.5,522,57.1,535,56.9,548,57.6,551,57.4,559,56.8,570,56.6,590,56.7,607,56.4,617,56.9,627,56.4,645,57.1,654,58,660,58.9,668,57.1,673,58.7,681,57.4,689,57.8,696,56.4,707,57.6,713,57.6,720,56,729,59,731,58.5,738,56.8,750,57.3,757,57.5,765,56.7,787,57.5,795,56.9,810,57.5,815,56.4,830,56.6,838,57.3,849,56.4,856,57.6,863,56.9,870,57.1,878,56.7,885,57.4,890,56.7,908,57.6,920,56.7,950,56.7,966,57.3,971,56.8,994,56.7,996,58.3,1000,57.1,1004,57.2,1008,56.7,1026,56.8,1040,56.5,1074,56.6,1085.5,57.1,1092,56.5,1111,56.6,1112.6,58.4,1116.7,58.4,1118,56.7,1142,56.8,1164,57,1187,56.8,1193,57.4,1200,58,1207,57.4,1222,57.5,1226,61.7,1230,57.5,1244,57.3,1246,58.1,1250,57.6,1259,57.7,1264,58.4,1271,57.7,1275,58.6,1280,57.5,1294.5,57.5,1296,58.1,1299,57.8,1309,57.8,1313,58.7,1322,58.2,1331.5,58.7,1336,58.5,1341,59.1,1346,59.3,1352,57.2,1360,57.4,1365,57.1,1399,57,1418,57.3,1423,60.2,1426,60,1435,65,1439,63.7];
const lineA=[0,42,6,41.1,19,41.2,23.5,39.9,30,41.1,38,40.1,52.6,39.8,59,38.9,69,38.6,85,38.4,90,39,96,38.8,98,41.1,100,41.1,102,38.8,115.5,39,120,38.1,127,38.4,133,38,146,39.8,152.6,39.9,172,38.4,188,39,207,38.3,211,43.1,213.9,42.9,215.5,39.5,220,39.3,223.5,38.5,233,38.3,240,37.6,251,37.8,254,39,257,39,260.6,38.1,273.5,38.9,280,37.8,285,38.2,291,38.8,304,38.5,323.5,38.4,331.6,37.5,336,38.3,341,38.1,345,39.3,348,38.2,362,38,378,39.3,386,39,391,37.8,407,37.5,423.5,38.1,436,38.4,437,40.2,440,39.5,443,37.9,456,38.8,464,38.4,467.6,41.4,472,39.4,475.5,42.6,478,40.2,481,43.2,490,43.6,494,39.7,498,38.2,500,38.6,506,40.8,508,38,511,37.8,516,41.5,519,41.9,521,38.5,527,37.9,532,37.5,540,37.6,552,39.8,557,37.7,579,37.6,589,38.7,602,39,608,38.3,615,38.5,628,41,645,40.6,653,41.2,664,41.2,669,40.4,673,42.3,680,41.4,692,40.2,701,42.1,711,39.9,717,40.4,722,39.3,731,43.5,737,40.9,746,40.7,757,45.7,761,40.5,767,39.5,770,40.7,773,41.3,786,40.8,795,41.5,800,40.8,810,40.4,815,39.8,825,40,835,40.5,840,39.9,845,40.3,854,42,860,39.7,868,40,875,39.3,883,40.8,895,40.8,905,40.4,912,39.7,916,40,925,39.5,941,38.9,947,38.8,953,38.5,964,41.1,970,39.6,978,39.3,984,38.8,997,39.9,1005,41,1015,39.5,1022,39.8,1030,38.9,1040,38.8,1053,39.2,1062,39,1067,38.4,1072,38.2,1080,39.9,1086,38.6,1093,39.5,1098,38.6,1108,39.6,1112,39.1,1116,39,1124,38.6,1135,38.4,1143,39.2,1152,38.6,1163,39.5,1169,39.1,1174,39.5,1181,38.3,1190,38.5,1196,39.2,1200,38.6,1207,38.1,1209,38.1,1226,38.6,1232,38.1,1242,37.8,1250,38.3,1254,39.4,1260,38.5,1268,38,1281,38.6,1290,38.9,1294,39.8,1299,39.1,1303,39.9,1315,38.2,1320,39.1,1327,40.4,1330,39.7,1335,41.1,1352,38.4,1356,39.5,1363,38.2,1368,38.4,1378,38.1,1390,37.9,1417,38.4,1422,46.3,1428,44.9,1431,45.6,1437,52.4,1439,52.4];

const hourLabels=["00","02","04","06","08","10","12","14","16","18","20","22"];
const topTitle=["data from [421/mic0]","starting point is [20231203_000056]"];
const panelTitles=["average and peak noise level (1 min sampling)","average noise level (5 min with 15s min/max dB envelope)"];
const topLegend=[["peak dB(Z)","#1e90ff"],["peak dB(C)","#ff00ff"],["peak dB(A)","#2e8b57"]];
const topLegendLines=[["avg dB(Z)","#4682b4"],["avg dB(C)","#da70d6"],["avg dB(A)","#9acd32"]];
const botLegend=[["dB(Z)","#dc143c"],["dB(C)","#ff8c00"],["dB(A)","#ffd700"]];

const pts=f=>d3.range(0,f.length,2).map(i=>[f[i],f[i+1]]).sort((a,b)=>a[0]-b[0]);
const svg=d3.select("#c");
const TICKSX=0.84;
function txt(p,x,y,s,o={}){const k=o.sx||0.85;const t=p.append("text").text(s).attr("font-size",o.size||10)
  .attr("font-weight",o.weight||"normal").attr("text-anchor",o.anchor||"start");
  t.attr("transform",o.rot?`translate(${x},${y}) rotate(-90) scale(1,${k})`:`translate(${x},${y}) scale(${k},1)`);return t;}

topTitle.forEach((s,i)=>txt(svg,24.3,23+i*16,s,{size:14.4,weight:"bold",sx:.967}));

const L=59.3,R=2343.7;
function panel(top,title,minT,maxT,fmt){
  const bot=top+504;
  const x=d3.scaleLinear().domain([minT,maxT]).range([L,R]);
  const y=d3.scaleLinear().domain([36,108]).range([bot,top]);
  const g=svg.append("g");
  g.append("rect").attr("x",L).attr("y",top).attr("width",R-L).attr("height",504).attr("fill","#fff7dc");
  const majX=d3.range(0,1440,120), minX=d3.range(0,1440,30).filter(m=>m%120), majY=d3.range(36,109,12), minY=d3.range(36,109,3).filter(v=>(v-36)%12);
  const grid=g.append("g");
  grid.selectAll(".a").data(minX).join("line").attr("x1",x).attr("x2",x).attr("y1",top).attr("y2",bot).attr("stroke","#cfcdc0").attr("stroke-width",1).attr("stroke-dasharray","1.5,2");
  grid.selectAll(".b").data(minY).join("line").attr("y1",y).attr("y2",y).attr("x1",L).attr("x2",R).attr("stroke","#c4c2b8").attr("stroke-width",1).attr("stroke-dasharray","3,1.5");
  grid.selectAll(".c").data(majX).join("line").attr("x1",x).attr("x2",x).attr("y1",top).attr("y2",bot).attr("stroke","#a9a9a9").attr("stroke-width",1.1);
  grid.selectAll(".d").data(majY).join("line").attr("y1",y).attr("y2",y).attr("x1",L).attr("x2",R).attr("stroke","#ababab").attr("stroke-width",1.6);
  const clipId="clip"+top;
  svg.append("clipPath").attr("id",clipId).append("rect").attr("x",L).attr("y",top).attr("width",R-L).attr("height",504);
  const data=svg.append("g").attr("clip-path",`url(#${clipId})`);
  const ax=(sel,a,tr)=>svg.append("g").attr("transform",tr).call(a).call(s=>s.select(".domain").remove());
  const styl=s=>s.selectAll("line").attr("stroke","#111").attr("stroke-width",1);
  const xa=d3.axisBottom(x).tickValues(majX).tickSize(7).tickPadding(6).tickFormat((d,i)=>fmt(hourLabels[i]));
  const g1=ax(svg,xa,`translate(0,${bot})`);g1.call(styl);g1.selectAll("text").attr("font-size",9.6).attr("transform",`scale(${TICKSX},1)`).attr("x",function(){return 0;}).each(function(){const t=this.parentNode.getAttribute("transform");});
  g1.selectAll("text").attr("transform",`scale(${TICKSX},1)`);
  const xm=d3.axisBottom(x).tickValues(minX).tickSize(4).tickFormat("");ax(svg,xm,`translate(0,${bot})`).call(styl);
  const yl=d3.axisLeft(y).tickValues(majY).tickSize(7).tickPadding(5).tickFormat(d3.format("d"));
  const g2=ax(svg,yl,`translate(${L},0)`);g2.call(styl);g2.selectAll("text").attr("font-size",9.6).attr("x",0).attr("transform",`translate(-12,0) scale(${TICKSX},1)`);
  ax(svg,d3.axisLeft(y).tickValues(minY).tickSize(4).tickFormat(""),`translate(${L},0)`).call(styl);
  const yr=d3.axisRight(y).tickValues(majY).tickSize(7).tickPadding(5).tickFormat(d3.format("d"));
  const g3=ax(svg,yr,`translate(${R},0)`);g3.call(styl);g3.selectAll("text").attr("font-size",9.6).attr("x",0).attr("transform",`translate(12,0) scale(${TICKSX},1)`);
  ax(svg,d3.axisRight(y).tickValues(minY).tickSize(4).tickFormat(""),`translate(${R},0)`).call(styl);
  svg.append("rect").attr("x",L).attr("y",top).attr("width",R-L).attr("height",504).attr("fill","none").attr("stroke","#000").attr("stroke-width",1.6);
  txt(svg,L,top-9.5,title,{size:12.6,weight:"bold",sx:.917});
  txt(svg,1200,bot+37,"time",{size:13.6,anchor:"middle",sx:.85});
  txt(svg,22,top+252,"dB SPL",{size:12.8,anchor:"middle",rot:true,sx:.9});
  txt(svg,2386,top+252,"dB SPL",{size:12.8,anchor:"middle",rot:true,sx:.9});
  return {x,y,data};
}

// top panel
const A=panel(84,panelTitles[0],0,1439.4,h=>h+":00");
const cross=d3.symbol().type(d3.symbolCross).size(7);
function dots(p,arr,color){p.data.append("g").selectAll("path").data(pts(arr)).join("path").attr("d",cross)
  .attr("transform",d=>`translate(${p.x(d[0])},${p.y(d[1])})`).attr("fill",color).attr("fill-opacity",.85);}
dots(A,peakZHigh.concat(peakZBand),"#1e90ff");
dots(A,peakCHigh.concat(peakCBand),"#ff00ff");
dots(A,peakAHigh.concat(peakABand),"#2e8b57");
function draw(p,arr,color,w,op){p.data.append("path").datum(pts(arr)).attr("fill","none").attr("stroke",color).attr("stroke-width",w).attr("stroke-opacity",op)
  .attr("stroke-linejoin","round").attr("d",d3.line().x(d=>p.x(d[0])).y(d=>p.y(d[1])));}
draw(A,avgZ,"#4682b4",1.35,.95);
draw(A,avgC,"#da70d6",1.35,.85);
draw(A,avgA,"#9acd32",1.35,.95);

// bottom panel
const B=panel(645,panelTitles[1],0,1440.6,h=>h+":00:00");
const mapLow=d3.scaleLinear().domain(envTimes).range(envLow);
B.data.append("path").datum(envTimes.map((t,i)=>[t,envLow[i],envHigh[i]])).attr("fill","#f6b9a0").attr("fill-opacity",.3)
  .attr("d",d3.area().x(d=>B.x(d[0])).y0(d=>B.y(d[1])).y1(d=>B.y(d[2])));
B.data.append("g").selectAll("rect").data(pts(peakZHigh.concat(peakZBand))).join("rect")
  .attr("x",d=>B.x(d[0])-.8).attr("width",B.x(1)-B.x(0)).attr("y",d=>B.y(d[1])).attr("height",d=>Math.max(0,B.y(mapLow(d[0]))-B.y(d[1])))
  .attr("fill","#f5a98c").attr("fill-opacity",.4);
draw(B,lineZ,"#dc143c",1.4,1);
draw(B,lineC,"#ff8c00",1.4,1);
draw(B,lineA,"#ffd700",1.4,1);

// legends
function box(x,y,w,h){svg.append("rect").attr("x",x).attr("y",y).attr("width",w).attr("height",h).attr("rx",2.5).attr("fill","#fff7dc").attr("fill-opacity",.8).attr("stroke","#dcbf95").attr("stroke-width",1.4);}
box(2155.7,542,182.3,41);
topLegend.forEach((d,i)=>{const yy=550+i*12;svg.append("circle").attr("cx",2169).attr("cy",yy).attr("r",2.6).attr("fill",d[1]);txt(svg,2186.5,yy+4,d[0],{size:11.3,sx:.86});});
topLegendLines.forEach((d,i)=>{const yy=550+i*12;svg.append("line").attr("x1",2258).attr("x2",2280).attr("y1",yy).attr("y2",yy).attr("stroke",d[1]).attr("stroke-width",3.4);txt(svg,2286,yy+4,d[0],{size:11.3,sx:.86});});
box(2276.7,1103.3,61.3,40.7);
botLegend.forEach((d,i)=>{const yy=1111.7+i*11.8;svg.append("line").attr("x1",2279).attr("x2",2301).attr("y1",yy).attr("y2",yy).attr("stroke",d[1]).attr("stroke-width",3.4);txt(svg,2308,yy+4,d[0],{size:11.3,sx:.86});});
</script></body></html>
